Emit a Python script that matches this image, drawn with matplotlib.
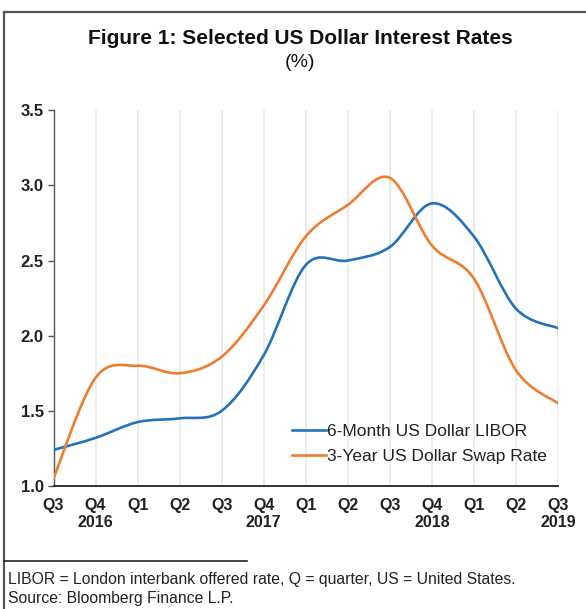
import matplotlib.pyplot as plt
import numpy as np
from matplotlib.path import Path
from matplotlib.patches import PathPatch
from matplotlib.lines import Line2D

plt.rcParams['font.family'] = ['Liberation Sans', 'DejaVu Sans']

# quarters from Q3 2016 to Q3 2019
quarter_labels = ['Q3', 'Q4\n2016', 'Q1', 'Q2', 'Q3', 'Q4\n2017', 'Q1', 'Q2',
                  'Q3', 'Q4\n2018', 'Q1', 'Q2', 'Q3\n2019']
libor_6m = [1.24, 1.32, 1.425, 1.45, 1.50, 1.87, 2.47, 2.50, 2.59, 2.88, 2.66, 2.18, 2.05]
swap_3y = [1.05, 1.72, 1.80, 1.75, 1.86, 2.20, 2.66, 2.87, 3.05, 2.60, 2.38, 1.77, 1.55]
series_names = ['6-Month US Dollar LIBOR', '3-Year US Dollar Swap Rate']
colors = ['#2473B8', '#EE7D31']


def smooth_path(x, y):
    """Excel-style smoothed line as cubic Bezier segments through the points."""
    pts = np.column_stack([x, y]).astype(float)
    n = len(pts)
    verts = [pts[0]]
    codes = [Path.MOVETO]
    for i in range(n - 1):
        p0 = pts[i - 1] if i > 0 else pts[i]
        p1 = pts[i]
        p2 = pts[i + 1]
        p3 = pts[i + 2] if i + 2 < n else pts[i + 1]
        c1 = p1 + (p2 - p0) / 6.0
        c2 = p2 - (p3 - p1) / 6.0
        verts += [c1, c2, p2]
        codes += [Path.CURVE4] * 3
    return Path(verts, codes)


fig = plt.figure(figsize=(5.86, 6.09), dpi=100)
ax = fig.add_axes([0.0913, 0.202, 0.8609, 0.617])

x = np.arange(len(quarter_labels))
for vals, c in zip([libor_6m, swap_3y], colors):
    ax.add_patch(PathPatch(smooth_path(x, vals), fill=False, edgecolor=c,
                           linewidth=1.9, capstyle='round', joinstyle='round', zorder=3))

ax.set_xlim(0, len(quarter_labels) - 1)
ax.set_ylim(1.0, 3.5)
ax.set_yticks([1.0, 1.5, 2.0, 2.5, 3.0, 3.5])
ax.set_yticklabels(['%.1f' % v for v in [1.0, 1.5, 2.0, 2.5, 3.0, 3.5]],
                   fontsize=12, fontweight='bold', color='#222222')
ax.set_xticks(x)
ax.set_xticklabels(quarter_labels, fontsize=11.5, fontweight='bold', color='#222222',
                   linespacing=1.15)
ax.tick_params(axis='x', length=0, pad=9)
ax.tick_params(axis='y', length=4, width=1, color='#555555', pad=3)

for xi in x[1:]:
    ax.axvline(xi, color='#ebebeb', linewidth=1.3, zorder=1)

for s in ['top', 'right']:
    ax.spines[s].set_visible(False)
ax.spines['left'].set_color('#555555')
ax.spines['left'].set_linewidth(1.0)
ax.spines['bottom'].set_color('#222222')
ax.spines['bottom'].set_linewidth(1.3)

handles = [Line2D([], [], color=c, linewidth=1.9) for c in colors]
ax.legend(handles, series_names, loc='lower left', bbox_to_anchor=(0.455, 0.035),
          frameon=False, fontsize=12.5, handlelength=2.0, handletextpad=0.05,
          labelspacing=0.6, borderpad=0, labelcolor='#222222')

fig.text(0.512, 0.937, 'Figure 1: Selected US Dollar Interest Rates',
         ha='center', va='center', fontsize=15, fontweight='bold', color='#111111')
fig.text(0.512, 0.898, '(%)', ha='center', va='center', fontsize=14, color='#111111')

# outer frame: left and top edges only
fig.add_artist(Line2D([0.006, 0.006], [0.0, 0.981], transform=fig.transFigure,
                      color='#555555', linewidth=1.6))
fig.add_artist(Line2D([0.006, 1.0], [0.981, 0.981], transform=fig.transFigure,
                      color='#555555', linewidth=1.6))
# footnote separator
fig.add_artist(Line2D([0.006, 0.422], [0.079, 0.079], transform=fig.transFigure,
                      color='#222222', linewidth=1.2))

fig.text(0.013, 0.049, 'LIBOR = London interbank offered rate, Q = quarter, US = United States.',
         ha='left', va='center', fontsize=11.3, color='#222222')
fig.text(0.013, 0.017, 'Source: Bloomberg Finance L.P.',
         ha='left', va='center', fontsize=11.3, color='#222222')

fig.savefig('out.png', dpi=100)
